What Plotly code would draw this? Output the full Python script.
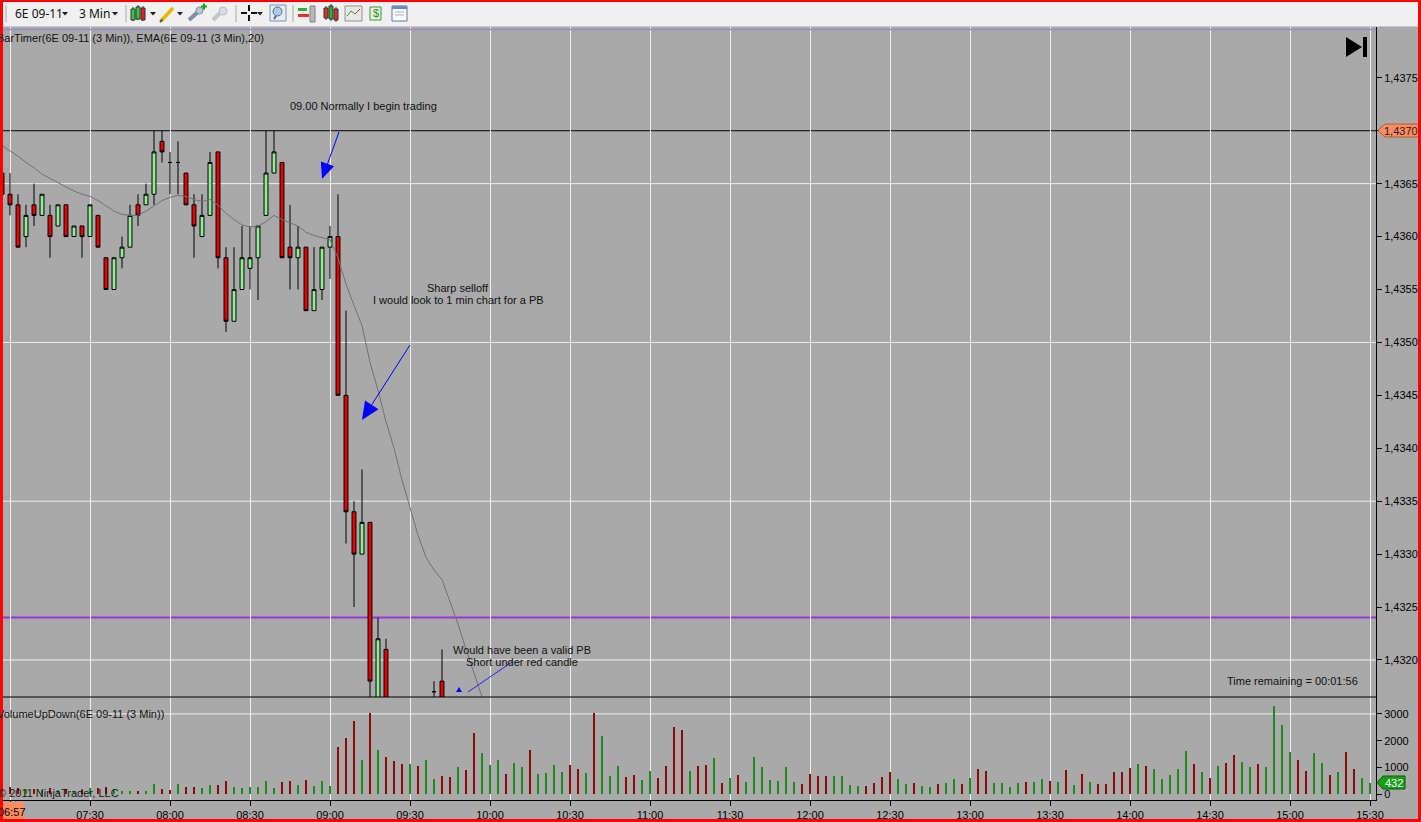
import pandas as pd
import plotly.graph_objects as go

SESSION_DAY = "2011-08-10"
FIRST_BAR = "06:57"

# 3 min bars from 06:57; after 09:42 price stays below the visible window
opens = [
    1.4366, 1.4364, 1.4363, 1.4360, 1.4363, 1.4362, 1.4362, 1.4361, 1.4363, 1.4360,
    1.4361, 1.4360, 1.4362, 1.4358, 1.4355, 1.4358, 1.4359, 1.4363, 1.4363, 1.4364,
    1.4369, 1.4367, 1.4367, 1.4366, 1.4363, 1.4360, 1.4362, 1.4368, 1.4358, 1.4352,
    1.4355, 1.4357, 1.4358, 1.4362, 1.4366, 1.4367, 1.4359, 1.4358, 1.4359, 1.4353,
    1.4355, 1.4359, 1.4360, 1.4345, 1.4334, 1.4330, 1.4333, 1.4316, 1.4321, 1.4315,
    1.4310, 1.4306, 1.4310, 1.4308, 1.4317, 1.4318,
]
highs = [
    1.4366, 1.4366, 1.4364, 1.4363, 1.4365, 1.4364, 1.4363, 1.4363, 1.4363, 1.4361,
    1.4361, 1.4363, 1.4362, 1.4358, 1.4358, 1.4360, 1.4363, 1.4364, 1.4365, 1.4370,
    1.4370, 1.4368, 1.4369, 1.4366, 1.4364, 1.4364, 1.4368, 1.4368, 1.4359, 1.4359,
    1.4361, 1.4361, 1.4361, 1.4370, 1.4370, 1.4367, 1.4363, 1.4361, 1.4359, 1.4359,
    1.4359, 1.4361, 1.4364, 1.4353, 1.4335, 1.4338, 1.4333, 1.4324, 1.4322, 1.4316,
    1.4313, 1.4312, 1.4313, 1.4315, 1.4318, 1.4321,
]
lows = [
    1.4364, 1.4362, 1.4359, 1.4359, 1.4361, 1.4362, 1.4358, 1.4361, 1.4360, 1.4360,
    1.4358, 1.4360, 1.4359, 1.4355, 1.4355, 1.4357, 1.4359, 1.4361, 1.4363, 1.4363,
    1.4367, 1.4364, 1.4364, 1.4363, 1.4358, 1.4360, 1.4362, 1.4357, 1.4351, 1.4352,
    1.4355, 1.4355, 1.4354, 1.4362, 1.4366, 1.4358, 1.4355, 1.4355, 1.4353, 1.4353,
    1.4354, 1.4356, 1.4345, 1.4331, 1.4325, 1.4330, 1.4315, 1.4314, 1.4313, 1.4308,
    1.4304, 1.4305, 1.4306, 1.4307, 1.4313, 1.4312,
]
closes = [
    1.4364, 1.4363, 1.4359, 1.4362, 1.4362, 1.4364, 1.4360, 1.4363, 1.4360, 1.4361,
    1.4360, 1.4363, 1.4359, 1.4355, 1.4358, 1.4359, 1.4362, 1.4362, 1.4364, 1.4368,
    1.4368, 1.4367, 1.4367, 1.4363, 1.4361, 1.4362, 1.4367, 1.4358, 1.4352, 1.4355,
    1.4358, 1.4358, 1.4361, 1.4366, 1.4368, 1.4358, 1.4358, 1.4359, 1.4353, 1.4355,
    1.4359, 1.4360, 1.4345, 1.4334, 1.4330, 1.4333, 1.4318, 1.4322, 1.4315, 1.4310,
    1.4306, 1.4310, 1.4308, 1.4313, 1.4317, 1.4313,
]

# EMA(20), 06:57 .. 09:57
ema20 = [
    1.43686, 1.43681, 1.43676, 1.43670, 1.43665, 1.43659, 1.43655, 1.43651, 1.43647, 1.43643,
    1.43640, 1.43638, 1.43634, 1.43629, 1.43624, 1.43621, 1.43620, 1.43620, 1.43624, 1.43629,
    1.43634, 1.43637, 1.43639, 1.43638, 1.43635, 1.43633, 1.43635, 1.43630, 1.43622, 1.43616,
    1.43611, 1.43609, 1.43610, 1.43614, 1.43620, 1.43616, 1.43613, 1.43610, 1.43604, 1.43601,
    1.43599, 1.43597, 1.43580, 1.43555, 1.43535, 1.43516, 1.43481, 1.43455, 1.43425, 1.43400,
    1.43370, 1.43343, 1.43318, 1.43297, 1.43285, 1.43276, 1.43255, 1.43234, 1.43210, 1.43188,
    1.43165,
]

# VolumeUpDown, 06:57 .. 15:30
volume = [
    200, 280, 220, 180, 200, 150, 230, 160, 210, 120,
    150, 250, 230, 260, 200, 110, 125, 125, 125, 375,
    190, 150, 375, 260, 260, 225, 335, 335, 500, 260,
    225, 260, 260, 500, 240, 460, 500, 335, 535, 310,
    500, 310, 1755, 2090, 2740, 1280, 3025, 1655, 1395, 1245,
    1135, 1135, 1060, 1280, 575, 685, 635, 1010, 910, 2290,
    1550, 1095, 1280, 760, 1185, 1020, 1655, 760, 795, 1095,
    835, 1095, 945, 795, 3025, 2180, 685, 1060, 650, 720,
    535, 870, 610, 1060, 2515, 2405, 870, 1060, 1095, 1355,
    425, 610, 720, 460, 1395, 1020, 535, 500, 1020, 460,
    385, 760, 685, 685, 685, 685, 350, 310, 310, 425,
    650, 835, 575, 385, 425, 310, 275, 385, 425, 575,
    385, 610, 945, 870, 425, 425, 275, 425, 460, 460,
    575, 500, 460, 910, 350, 760, 460, 385, 385, 835,
    835, 985, 1135, 1060, 945, 575, 720, 945, 1620, 1135,
    835, 610, 1060, 1170, 1470, 1210, 1020, 1135, 1020, 3300,
    2590, 1580, 1280, 870, 1545, 1170, 720, 835, 1580, 945,
    610, 432,
]
# G = up volume, R = down volume
volume_side = (
    "RRRGRGRGRG" "RGRRGGGRGG" "RRGRRGGRRG" "GGGGGRRGRG" "GGRRRGRGRR"
    "RGRGGRRGRR" "GGGRGGRGGG" "GRRGRGGGRR" "GGRRRRGRRG" "RGRGGGGGGG"
    "RRRRGGGGRR" "RRGGRGGRGG" "RGRRGGGGRG" "GRGRGRGRRR" "RRGRGGGGGR"
    "GRGRRGGRGG" "GGRRGGRGRR" "GG"
)

time_labels = ["07:00", "07:30", "08:00", "08:30", "09:00", "09:30", "10:00", "10:30",
               "11:00", "11:30", "12:00", "12:30", "13:00", "13:30", "14:00", "14:30",
               "15:00", "15:30"]
price_ticks = [1.4320, 1.4325, 1.4330, 1.4335, 1.4340, 1.4345, 1.4350, 1.4355,
               1.4360, 1.4365, 1.4370, 1.4375]
price_labels = ["1,4320", "1,4325", "1,4330", "1,4335", "1,4340", "1,4345", "1,4350",
                "1,4355", "1,4360", "1,4365", "1,4370", "1,4375"]
price_grid = [1.4320, 1.4335, 1.4350, 1.4365]
volume_ticks = [0, 1000, 2000, 3000]
volume_labels = ["0", "1000", "2000", "3000"]
volume_grid = [3000]
hline_black = 1.4370
hline_purple = 1.4324

FONT = "Liberation Sans, Arial, sans-serif"
BG = "#A9A9A9"
GRID = "#EFEFEF"

# screen geometry of the chart window
PLOT_W = 1376
PLOT_TOP = 27
PLOT_BOTTOM = 800
PANEL_SPLIT = 697


def fx(px):
    return px / PLOT_W


def fy(py):
    return (PLOT_BOTTOM - py) / (PLOT_BOTTOM - PLOT_TOP)


def rect(x0, y0, x1, y1, fill, line=None, lw=1, layer="above"):
    return dict(type="rect", xref="paper", yref="paper",
                x0=fx(x0), x1=fx(x1), y0=fy(y0), y1=fy(y1),
                fillcolor=fill, line=dict(color=line or fill, width=lw if line else 0),
                layer=layer)


def seg(x0, y0, x1, y1, color, width=1, layer="above"):
    return dict(type="line", xref="paper", yref="paper",
                x0=fx(x0), x1=fx(x1), y0=fy(y0), y1=fy(y1),
                line=dict(color=color, width=width), layer=layer)


def poly(points, fill, line=None, lw=1):
    path = "M " + " L ".join(f"{fx(x):.5f},{fy(y):.5f}" for x, y in points) + " Z"
    return dict(type="path", xref="paper", yref="paper", path=path,
                fillcolor=fill, line=dict(color=line or fill, width=lw if line else 0),
                layer="above")


def arrow(tail, tip, head_len, head_half, color="#0000FF"):
    dx, dy = tip[0] - tail[0], tip[1] - tail[1]
    n = (dx * dx + dy * dy) ** 0.5
    ux, uy = dx / n, dy / n
    bx, by = tip[0] - head_len * ux, tip[1] - head_len * uy
    px_, py_ = -uy, ux
    head = [tip, (bx + head_half * px_, by + head_half * py_), (bx - head_half * px_, by - head_half * py_)]
    return [seg(tail[0], tail[1], bx, by, color, 1), poly(head, color)]


def note(text, x, y, anchor="center", size=11, color="#111111", family=FONT):
    return dict(text=text, x=fx(x), y=fy(y), xref="paper", yref="paper",
                xanchor=anchor, yanchor="middle", showarrow=False,
                font=dict(family=family, size=size, color=color))


times = pd.date_range(f"{SESSION_DAY} {FIRST_BAR}", periods=len(volume), freq="3min")
n_bars = len(opens)

fig = go.Figure()

fig.add_trace(go.Candlestick(
    x=times[:n_bars], open=opens, high=highs, low=lows, close=closes,
    increasing=dict(line=dict(color="black", width=1), fillcolor="#90EE90"),
    decreasing=dict(line=dict(color="black", width=1), fillcolor="#E60000"),
    whiskerwidth=0, showlegend=False, hoverinfo="skip",
    xaxis="x", yaxis="y",
))
fig.add_trace(go.Scatter(
    x=times[:len(ema20)], y=ema20, mode="lines",
    line=dict(color="#727272", width=1), showlegend=False, hoverinfo="skip",
    xaxis="x", yaxis="y",
))
fig.add_trace(go.Bar(
    x=times, y=volume, width=50000,
    marker=dict(color=["#1E8A1E" if s == "G" else "#8B0A0A" for s in volume_side],
                line=dict(width=0)),
    showlegend=False, hoverinfo="skip", xaxis="x2", yaxis="y2",
))

tick_times = [f"{SESSION_DAY} {t}" for t in time_labels]
x_range = [f"{SESSION_DAY} 06:56:15", f"{SESSION_DAY} 15:32:15"]
split = fy(PANEL_SPLIT)

axis_font = dict(family=FONT, size=11, color="black")
fig.update_layout(
    width=1421, height=822,
    margin=dict(l=0, r=1421 - PLOT_W, t=PLOT_TOP, b=822 - PLOT_BOTTOM, pad=0),
    paper_bgcolor=BG, plot_bgcolor=BG,
    bargap=0, showlegend=False,
    xaxis=dict(domain=[0, 1], anchor="y", range=x_range, type="date",
               tickvals=tick_times, showticklabels=False, ticks="",
               showgrid=True, gridcolor=GRID, gridwidth=1, zeroline=False,
               rangeslider=dict(visible=False), fixedrange=True),
    yaxis=dict(domain=[split, 1], anchor="x", side="right",
               range=[1.43165, 1.43798], tickvals=price_ticks, ticktext=price_labels,
               ticks="outside", ticklen=5, tickcolor="black", tickfont=axis_font,
               showline=True, linecolor="black", linewidth=1,
               showgrid=False, zeroline=False, fixedrange=True),
    xaxis2=dict(domain=[0, 1], anchor="y2", matches="x", type="date",
                tickvals=tick_times, ticktext=[""] + time_labels[1:],
                ticks="outside", ticklen=5, tickcolor="black", tickfont=axis_font,
                showline=True, linecolor="black", linewidth=1,
                showgrid=True, gridcolor=GRID, gridwidth=1, zeroline=False,
                fixedrange=True),
    yaxis2=dict(domain=[0, split], anchor="x2", side="right",
                range=[-213, 3631], tickvals=volume_ticks, ticktext=volume_labels,
                ticks="outside", ticklen=5, tickcolor="black", tickfont=axis_font,
                showline=True, linecolor="black", linewidth=1,
                showgrid=False, zeroline=False, fixedrange=True),
)

shapes = []
for p in price_grid:
    shapes.append(dict(type="line", xref="paper", yref="y", x0=0, x1=1, y0=p, y1=p,
                       line=dict(color=GRID, width=1), layer="below"))
for v in volume_grid:
    shapes.append(dict(type="line", xref="paper", yref="y2", x0=0, x1=1, y0=v, y1=v,
                       line=dict(color=GRID, width=1), layer="below"))
shapes.append(dict(type="line", xref="paper", yref="y", x0=0, x1=1,
                   y0=hline_black, y1=hline_black, line=dict(color="black", width=1),
                   layer="below"))
shapes.append(dict(type="line", xref="paper", yref="y", x0=0, x1=1,
                   y0=hline_purple, y1=hline_purple, line=dict(color="#9A34E0", width=2),
                   layer="below"))
# panel divider and top border
shapes.append(seg(0, PANEL_SPLIT, PLOT_W, PANEL_SPLIT, "black", 1))
shapes.append(seg(0, 29.5, PLOT_W, 29.5, "#9C8CCB", 1.5))

# drawn arrows
shapes += arrow((339, 132), (322, 179), 16, 7)
shapes += arrow((410, 345), (362, 420), 18, 8)
shapes.append(seg(512, 662, 468, 692, "#2222EE", 1))
shapes.append(poly([(456, 692), (462, 692), (459, 687)], "#0000FF"))

# skip-to-end glyph
shapes.append(poly([(1346, 37), (1346, 57), (1362, 47)], "black"))
shapes.append(rect(1363, 37, 1367, 57, "black"))

# price / volume markers on the right axis
shapes.append(poly([(1378, 130.5), (1385, 124), (1420, 124), (1420, 137), (1385, 137)],
                   "#FF8C62", "#B85A30", 1))
shapes.append(poly([(1377, 782.5), (1383, 776), (1405, 776), (1405, 789), (1383, 789)],
                   "#16A016", "#0A5A0A", 1))
# first-bar time marker
shapes.append(rect(-2, 802, 24, 822, "#FF8C62"))

# toolbar
shapes.append(rect(-5, -5, 1430, 26.5, "#F0F0F0"))
shapes.append(seg(-5, 26.5, 1430, 26.5, "#C8C8D8", 1))
for sx in (6, 126, 236, 293):
    shapes.append(seg(sx, 5, sx, 22, "#A8A8A8", 1))
for tx in (65, 115, 153, 180, 260):
    shapes.append(poly([(tx - 3, 12), (tx + 3, 12), (tx, 15.5)], "#202020"))
# candle icon
for cx, top, bot, col in ((133, 9, 20, "#3CC83C"), (138, 7, 19, "#3CC83C"), (143, 8, 20, "#E02020")):
    shapes.append(seg(cx, top - 2, cx, bot + 1, "#303030", 1))
    shapes.append(rect(cx - 2, top, cx + 2, bot, col, "#303030", 1))
# pencil
shapes.append(seg(161, 21, 173, 8, "#E6B800", 3.5))
shapes.append(seg(160, 22, 162.5, 19.5, "#555555", 2))
# indicator add / remove icons
shapes.append(seg(189, 20, 199, 11, "#7D90A4", 4))
shapes.append(dict(type="circle", xref="paper", yref="paper", x0=fx(196), x1=fx(203),
                   y0=fy(7), y1=fy(14), fillcolor="#B8C8D8", line=dict(color="#7D90A4", width=1)))
shapes.append(seg(204, 3.5, 204, 9.5, "#18A018", 2))
shapes.append(seg(201, 6.5, 207, 6.5, "#18A018", 2))
shapes.append(seg(213, 20, 222, 11, "#C0C6CC", 4))
shapes.append(dict(type="circle", xref="paper", yref="paper", x0=fx(219), x1=fx(227),
                   y0=fy(7), y1=fy(15), fillcolor="#D8DCE0", line=dict(color="#B8BEC4", width=1)))
# crosshair
shapes.append(seg(241, 13, 247, 13, "#101010", 2))
shapes.append(seg(251, 13, 257, 13, "#101010", 2))
shapes.append(seg(249, 5, 249, 11, "#101010", 2))
shapes.append(seg(249, 15, 249, 21, "#101010", 2))
# zoom
shapes.append(rect(270, 5, 286, 21, "#E4ECF4", "#8090A8", 1))
shapes.append(dict(type="circle", xref="paper", yref="paper", x0=fx(273), x1=fx(282),
                   y0=fy(7), y1=fy(16), fillcolor="#B0C8E0", line=dict(color="#4A6A90", width=1)))
shapes.append(seg(274, 19, 276, 16, "#4A6A90", 2))
# chart style icons
shapes.append(rect(298, 8, 307, 11, "#30B030"))
shapes.append(rect(298, 14, 309, 17, "#E03030"))
shapes.append(rect(310, 6, 315, 22, "#B8B8B8", "#808080", 1))
for cx, top, bot, col in ((326, 8, 18, "#E03030"), (331, 6, 19, "#30B030"), (336, 9, 20, "#E03030")):
    shapes.append(seg(cx, top - 2, cx, bot + 2, "#303030", 1))
    shapes.append(rect(cx - 2, top, cx + 2, bot, col, "#303030", 1))
shapes.append(rect(345, 6, 362, 21, "#E8E8E8", "#909090", 1))
shapes.append(seg(347, 16, 351, 11, "#30A030", 1))
shapes.append(seg(351, 11, 355, 14, "#30A030", 1))
shapes.append(seg(355, 14, 360, 9, "#D03030", 1))
shapes.append(rect(370, 7, 381, 20, "#E6F4DC", "#3A9A3A", 1))
shapes.append(rect(392, 6, 407, 21, "#FFFFFF", "#5B78A8", 1))
shapes.append(rect(392, 6, 407, 9, "#6C8CC0"))
shapes.append(seg(395, 12, 404, 12, "#9AAACC", 1))
shapes.append(seg(395, 15, 404, 15, "#9AAACC", 1))

# red window frame
shapes.append(rect(-5, -5, 1430, 2, "#FF0000"))
shapes.append(rect(-5, -5, 3, 830, "#FF0000"))
shapes.append(rect(1418, -5, 1430, 830, "#FF0000"))
shapes.append(rect(-5, 819, 1430, 830, "#FF0000"))

fig.update_layout(shapes=shapes)

annotations = [
    note("BarTimer(6E 09-11 (3 Min)), EMA(6E 09-11 (3 Min),20)", -5, 38, "left"),
    note("VolumeUpDown(6E 09-11 (3 Min))", -5, 714, "left"),
    note("© 2011 NinjaTrader, LLC", -4, 793, "left", color="#1A1A1A"),
    note("09.00 Normally I begin trading", 288, 106, "left"),
    note("Sharp selloff", 458, 288),
    note("I would look to 1 min chart for a PB", 458, 300),
    note("Would have been a valid PB", 522, 650),
    note("Short under red candle", 522, 662),
    note("Time remaining = 00:01:56", 1360, 681, "right"),
    note("1,4370", 1401, 131, size=11, color="#202020"),
    note("432", 1394, 782.5, size=11, color="white"),
    note("06:57", 12, 812, "center", size=11, color="black"),
    note("6E 09-11", 13, 13.5, "left", size=12, color="#101010", family="Noto Sans, sans-serif"),
    note("3 Min", 77, 13.5, "left", size=12, color="#101010", family="Noto Sans, sans-serif"),
    note("$", 375.5, 13.5, "center", size=11, color="#2A8A2A", family="Liberation Sans, sans-serif"),
]
fig.update_layout(annotations=annotations)

# the page must not add its own margin around the 1421x822 figure
fig.write_html(
    "out.html",
    config={"displayModeBar": False},
    post_script="document.body.style.margin='0';document.body.style.overflow='hidden';",
)
